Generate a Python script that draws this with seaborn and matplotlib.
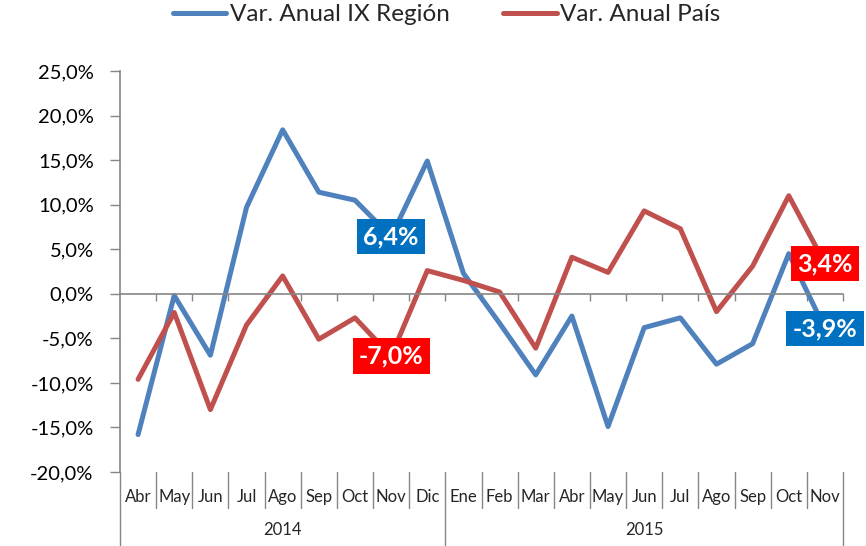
import matplotlib
matplotlib.use('Agg')
import matplotlib.pyplot as plt
import matplotlib.transforms as mtransforms
import seaborn as sns
import pandas as pd
import numpy as np

# data (variacion anual, %)
months = ['Abr', 'May', 'Jun', 'Jul', 'Ago', 'Sep', 'Oct', 'Nov', 'Dic',
          'Ene', 'Feb', 'Mar', 'Abr', 'May', 'Jun', 'Jul', 'Ago', 'Sep', 'Oct', 'Nov']
years = ['2014', '2015']
months_per_year = [9, 11]
region = [-15.8, -0.2, -6.9, 9.7, 18.4, 11.4, 10.5, 6.4, 14.9, 2.3,
          -3.3, -9.1, -2.5, -14.9, -3.8, -2.7, -7.9, -5.6, 4.5, -3.9]
pais = [-9.6, -2.1, -13.0, -3.5, 2.0, -5.1, -2.7, -7.0, 2.6, 1.5,
        0.2, -6.1, 4.1, 2.4, 9.3, 7.3, -2.0, 3.1, 11.0, 3.4]
series_names = ['Var. Anual IX Región', 'Var. Anual País']
label_idx = [7, 19]  # points with a value box

line_colors = ['#4F81BD', '#C0504D']
box_colors = ['#0070C0', '#FF0000']
axis_gray = '#868686'


def pct(v):
    return f"{v:.1f}%".replace('.', ',')


df = pd.DataFrame({
    'idx': list(range(len(months))) * 2,
    'valor': region + pais,
    'serie': [series_names[0]] * len(months) + [series_names[1]] * len(months),
})

sns.set_style('white')
plt.rcParams['font.family'] = ['Lato', 'DejaVu Sans']

fig = plt.figure(figsize=(8.66, 5.46), dpi=100)
ax = fig.add_axes([120 / 866, 1 - 472 / 546, 723 / 866, 401 / 546])

sns.lineplot(data=df, x='idx', y='valor', hue='serie', palette=line_colors,
             linewidth=3.6, ax=ax, solid_joinstyle='round', solid_capstyle='round')

ax.set_xlim(-0.5, len(months) - 0.5)
ax.set_ylim(-20, 25)
ax.set_xlabel('')
ax.set_ylabel('')

# y axis
ax.set_yticks(np.arange(-20, 26, 5))
ax.set_yticklabels([pct(v) for v in np.arange(-20, 26, 5)])
ax.tick_params(axis='y', left=True, direction='out', length=7, width=1, color=axis_gray,
               labelsize=14.5, labelcolor='black', pad=12)

# category axis crossing at zero
ax.spines['bottom'].set_position(('data', 0))
ax.set_xticks(np.arange(0.5, len(months), 1))
ax.set_xticklabels([])
ax.tick_params(axis='x', bottom=True, direction='out', length=5, width=1, color=axis_gray)
for s in ['top', 'right']:
    ax.spines[s].set_visible(False)
for s in ['left', 'bottom']:
    ax.spines[s].set_color(axis_gray)
    ax.spines[s].set_linewidth(1.2)

# month and year labels under the plot
trans = mtransforms.blended_transform_factory(ax.transData, ax.transAxes)
for i, m in enumerate(months):
    ax.text(i, -0.062, m, transform=trans, ha='center', va='center', fontsize=12)
bounds = np.cumsum([0] + months_per_year) - 0.5
for i in range(len(months) + 1):
    x = i - 0.5
    low = -0.187 if x in bounds else -0.09
    ax.plot([x, x], [0, low], transform=trans, color=axis_gray, lw=1, clip_on=False)
for k, y in enumerate(years):
    ax.text((bounds[k] + bounds[k + 1]) / 2, -0.145, y, transform=trans,
            ha='center', va='center', fontsize=12)

# value boxes
for s, vals in enumerate([region, pais]):
    for i in label_idx:
        ax.text(i, vals[i], pct(vals[i]), ha='center', va='center', color='white',
                fontsize=18, fontweight='bold', zorder=5,
                bbox=dict(boxstyle='square,pad=0.25', fc=box_colors[s], ec='none'))

sns.move_legend(ax, 'center', bbox_to_anchor=(0.452, 1.14), ncol=2, frameon=False,
                title=None, fontsize=17.5, handlelength=2.2, columnspacing=2.2,
                handletextpad=0.15)

fig.savefig('out.png', dpi=100)
